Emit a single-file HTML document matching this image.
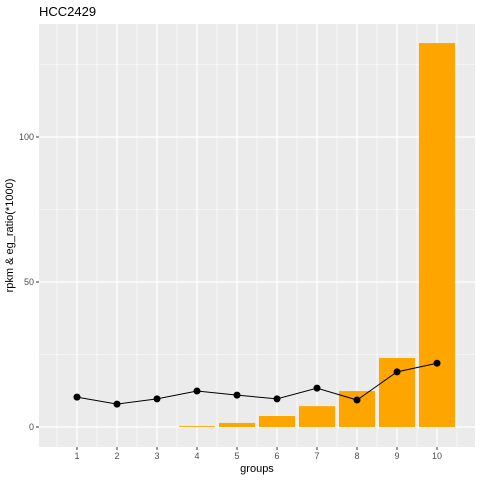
<!DOCTYPE html>
<html><head><meta charset="utf-8"><style>body{margin:0;background:#fff}svg{font-family:"Liberation Sans",sans-serif}</style></head>
<body>
<svg id="c" width="480" height="480"></svg>
<script>
const categories=["1","2","3","4","5","6","7","8","9","10"];
const barValues=[0,0,0,0.3,1.4,3.8,7.2,12.4,23.8,132.4];
const lineValues=[10.3,7.9,9.7,12.4,11,9.7,13.4,9.3,19,22];
const yTicks=[0,50,100];
const NS="http://www.w3.org/2000/svg";
const svg=document.getElementById('c');
const L=39,R=475,T=24,B=447;
const x=i=>77+i*40;
const y=v=>427-v*2.9;
function mk(t,a,p){const e=document.createElementNS(NS,t);for(const k in a)e.setAttribute(k,a[k]);(p||svg).appendChild(e);return e;}
const panel=mk('rect',{x:L,y:T,width:R-L,height:B-T,fill:'#ebebeb'});


for(let v=-25;v<=150;v+=50){const yy=y(v);if(yy>T&&yy<B)mk('line',{x1:L,x2:R,y1:yy,y2:yy,stroke:'#fff','stroke-width':0.6});}
for(let i=-0.5;i<10;i+=1){const xx=x(i);if(xx>L&&xx<R)mk('line',{x1:xx,x2:xx,y1:T,y2:B,stroke:'#fff','stroke-width':0.6});}
yTicks.forEach(v=>{mk('line',{x1:L,x2:R,y1:y(v),y2:y(v),stroke:'#fff','stroke-width':1.2});
mk('line',{x1:L-3,x2:L,y1:y(v),y2:y(v),stroke:'#333'});
const t=mk('text',{x:L-5,y:y(v)+3,'text-anchor':'end','font-size':9,fill:'#4d4d4d'});t.textContent=v;

});
categories.forEach((c,i)=>{mk('line',{x1:x(i),x2:x(i),y1:T,y2:B,stroke:'#fff','stroke-width':1.2});
mk('line',{x1:x(i),x2:x(i),y1:B,y2:B+3,stroke:'#333'});
const t=mk('text',{x:x(i),y:B+12,'text-anchor':'middle','font-size':9,fill:'#4d4d4d'});t.textContent=c;

});
barValues.forEach((v,i)=>{const b=mk('rect',{x:x(i)-18,y:y(v),width:36,height:Math.max(y(0)-y(v),0),fill:'#ffa500'});

});
const pl=mk('polyline',{points:lineValues.map((v,i)=>x(i)+','+y(v)).join(' '),fill:'none',stroke:'#000','stroke-width':1});


lineValues.forEach((v,i)=>{const p=mk('circle',{cx:x(i),cy:y(v),r:3.5,fill:'#000'});

});
const xt=mk('text',{x:(L+R)/2,y:472,'text-anchor':'middle','font-size':11,fill:'#000'});xt.textContent='groups';


const yt=mk('text',{x:0,y:0,'text-anchor':'middle','font-size':11,fill:'#000',transform:'translate(13,'+((T+B)/2)+') rotate(-90)'});yt.textContent='rpkm & eg_ratio(*1000)';


const tt=mk('text',{x:39,y:16,'font-size':13,fill:'#000'});tt.textContent='HCC2429';


</script>
</body></html>
